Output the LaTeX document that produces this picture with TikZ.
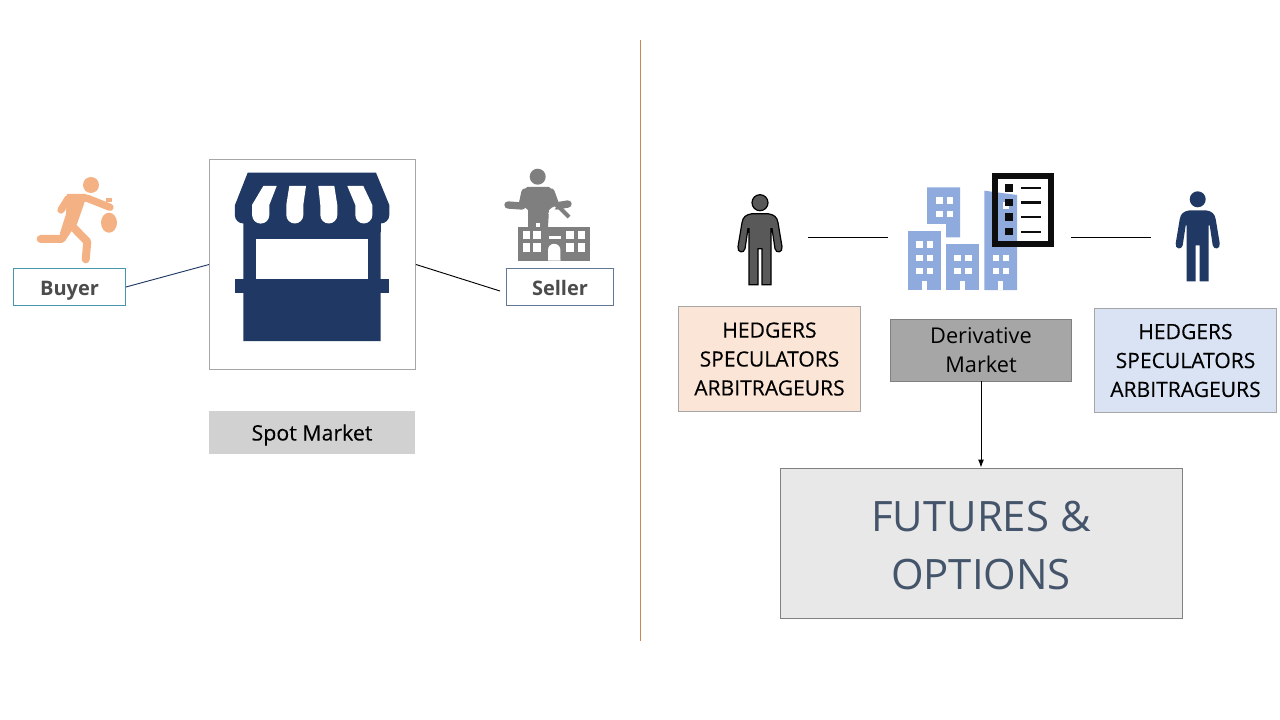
\documentclass[tikz,border=0pt]{standalone}
\usepackage{fontspec}
\setmainfont{Open Sans}
\usetikzlibrary{arrows.meta}
\def\px{0.75pt}
\definecolor{stallblue}{HTML}{1F3864}
\definecolor{runnerorange}{HTML}{F4B183}
\definecolor{sellergray}{HTML}{7F7F7F}
\definecolor{cityblue}{HTML}{8FAADC}
\definecolor{slate}{HTML}{44546A}
\definecolor{rulebrown}{HTML}{C9875C}
\definecolor{peach}{HTML}{FBE5D6}
\definecolor{paleblue}{HTML}{DAE3F3}
\tikzset{
    labelbox/.style={draw=#1, fill=white, line width=0.7pt, inner sep=0pt, align=center, text=black!70, text height=12pt, text depth=0pt, font=\bfseries\fontsize{15}{18}\selectfont},
    groupbox/.style={draw=black!35, fill=#1, line width=0.7pt, inner sep=0pt, align=center, text=black, font=\addfontfeature{FakeBold=0.25}\fontsize{15.8}{21.7}\selectfont},
    person/.pic={
        \fill[pic actions] (0,0) circle (8);
        \path[pic actions] (-8,11) -- (8,11) .. controls (14,12) and (17,14) .. (18,20) -- (22,44)
            .. controls (23,50) and (16,51) .. (15,46) -- (12,26) -- (11,26) -- (11,82) -- (2,82) -- (2,46) -- (-2,46) -- (-2,82) -- (-11,82) -- (-11,26) -- (-12,26) -- (-15,46)
            .. controls (-16,51) and (-23,50) .. (-22,44) -- (-18,20) .. controls (-17,14) and (-14,12) .. (-8,11) -- cycle;
    }
}
\begin{document}
\begin{tikzpicture}[x=0.75pt,y=-0.75pt]
    \useasboundingbox (0,0) rectangle (1280,720);

    \coordinate (ruletop) at (640.5,40);
    \coordinate (rulebottom) at (640.5,641);
    \draw[rulebrown, line width=0.8pt] (ruletop) -- (rulebottom);

    % left side
    \node[draw=black!35, fill=white, line width=0.7pt, minimum width=206*\px, minimum height=210*\px] (stall) at (312.5,264.5) {};
    \node[labelbox={cityblue!50!teal}, minimum width=112*\px, minimum height=37*\px] (buyer) at (69.5,287) {Buyer};
    \node[labelbox={slate!60!cityblue}, minimum width=107*\px, minimum height=37*\px] (seller) at (560,287) {Seller};
    \node[fill=black!18, inner sep=0pt, minimum width=206*\px, minimum height=43*\px, text height=12pt, text depth=0pt, font=\addfontfeature{FakeBold=0.25}\fontsize{16}{18}\selectfont] (spot) at (312,432.5) {Spot Market};

    \coordinate (sellerend) at (500,291);
    \draw[stallblue, line width=0.7pt] (buyer.east) -- (stall.west);
    \draw[line width=0.7pt] (stall.east) -- (sellerend);

    % stall
    \fill[stallblue] (247.7,172.7) -- (376,172.7) -- (389.3,205) -- (389.3,215) arc (0:90:8.5) -- (380.7,239) -- (380.7,341) -- (243.3,341) -- (243.3,223.5) arc (90:180:8.5) -- (235,205) -- cycle;
    \fill[stallblue] (235,278.7) rectangle (389.3,292.7);
    \fill[white] (256,239.3) rectangle (367.7,278.7);
    \fill[white] (263.3,186) -- (276.7,186) -- (269.3,205) -- (269.3,215) arc (0:180:8.6) -- (252,205) -- cycle;
    \fill[white] (289.3,186) -- (306,186) -- (303.3,205) -- (303.3,215) arc (0:180:8.5) -- (286.3,205) -- cycle;
    \fill[white] (318.3,186) -- (334.3,186) -- (337.3,205) -- (337.3,215) arc (0:180:8.5) -- (320.3,205) -- cycle;
    \fill[white] (347.3,186) -- (363.3,186) -- (372.3,205) -- (372.3,215) arc (0:180:8.5) -- (355.3,205) -- cycle;

    % runner
    \fill[runnerorange] (91,185) circle (8);
    \fill[runnerorange] (67,194) -- (86,194) -- (84,204) -- (77,224) -- (68,236) -- (60,233) -- (66,214) -- cycle;
    \draw[runnerorange, line width=5.5pt, line cap=round, line join=round] (61,210) -- (68.3,198.3) -- (87.3,198.3) -- (110,207.3);
    \draw[runnerorange, line width=6pt, line cap=round, line join=round] (66,232) -- (61.7,239) -- (40.7,239);
    \draw[runnerorange, line width=6pt, line cap=round, line join=round] (73,227) -- (87.3,241.7) -- (85.7,259.3);
    \fill[runnerorange] (109,222.7) ellipse (8 and 10);
    \fill[runnerorange] (106,198) rectangle (112,202);

    % seller
    \fill[sellergray] (537.7,176.7) circle (8);
    \fill[sellergray] (527,187) -- (549,187) -- (553,191) -- (556,204) -- (549,210) -- (548,227) -- (528,227) -- (528,210) -- (522,205) -- (523,191) -- cycle;
    \draw[sellergray, line width=5.5pt, line cap=round, line join=round] (525,192) -- (522,206) -- (508,205);
    \draw[sellergray, line width=5.5pt, line cap=round, line join=round] (551,192) -- (556,206) -- (568,204);
    \fill[sellergray] (518.3,226.7) rectangle (590,260.7);
    \draw[white, line width=1.6pt] (549,214) -- (555,207);
    \draw[sellergray, line width=3pt] (557,205) -- (569,217);
    \fill[white] (554,223.5) circle (2.7);
    \fill[white] (536,223) rectangle (540,227);
    \foreach \wx in {522.5,533,566,577.5}
        \foreach \wy in {231.5,243.5}
            \fill[white] (\wx,\wy) rectangle +(7.5,8);
    \fill[white] (548.5,236.5) rectangle (560.5,239.5);
    \fill[white] (548,260.7) -- (548,250) arc (180:360:6.2) -- (560.5,260.7) -- cycle;

    % derivative side
    \pic[fill=black!65, draw=black, line width=0.9pt] at (760,202.7) {person};
    \pic[fill=stallblue] at (1197.7,199.3) {person};

    % city
    \fill[cityblue] (927,187.3) -- (960,187.3) -- (960,237.3) -- (946,237.3) -- (946,224) -- (927,224) -- cycle;
    \fill[cityblue] (908,230.7) rectangle (940.7,290);
    \fill[cityblue] (946,244) rectangle (979,290);
    \fill[cityblue] (984.3,190.7) -- (1017,195) -- (1017,290) -- (984.3,290) -- cycle;
    \foreach \bx in {921.7,960,998.3}
        \fill[white] (\bx,281) rectangle (\bx+5,290);
    \foreach \wx in {936,946.5}
        \foreach \wy in {197.5,211}
            \fill[white] (\wx,\wy) rectangle +(6.5,6.5);
    \foreach \wx in {916,926.5}
        \foreach \wy in {241,254.5,267.5}
            \fill[white] (\wx,\wy) rectangle +(6.5,6.5);
    \foreach \wx in {954,965,992.5,1002.5}
        \foreach \wy in {254.5,267.5}
            \fill[white] (\wx,\wy) rectangle +(6.5,6.5);
    \fill[white] (1002.5,202) rectangle +(6.5,7);

    % list
    \draw[black!95, line width=4.3pt] (994.8,176.1) rectangle (1051.2,243.9);
    \foreach \ly in {187.8,202.5,217,231.7} {
        \fill[black!95] (1005,\ly-3.8) rectangle (1013.3,\ly+3.8);
        \draw[black!95, line width=1.6pt] (1021,\ly) -- (1041,\ly);
    }

    \coordinate (leftlinea) at (808,237.5);
    \coordinate (leftlineb) at (888,237.5);
    \coordinate (rightlinea) at (1071,237.5);
    \coordinate (rightlineb) at (1151,237.5);
    \draw[line width=0.7pt] (leftlinea) -- (leftlineb);
    \draw[line width=0.7pt] (rightlinea) -- (rightlineb);

    \node[groupbox=peach, minimum width=182*\px, minimum height=105*\px] (hedgersleft) at (769.5,359) {HEDGERS\\SPECULATORS\\ARBITRAGEURS};
    \node[groupbox=paleblue, minimum width=182*\px, minimum height=104*\px] (hedgersright) at (1185.5,360.5) {HEDGERS\\SPECULATORS\\ARBITRAGEURS};
    \node[draw=black!50, fill=black!35, line width=0.7pt, inner sep=0pt, align=center, minimum width=181*\px, minimum height=62*\px, font=\fontsize{16.3}{21.7}\selectfont] (derivative) at (981,350) {Derivative\\Market};
    \node[draw=black!50, fill=black!9, line width=0.7pt, inner sep=0pt, align=center, text=slate, minimum width=402*\px, minimum height=150*\px, text height=70.5pt, font=\fontsize{31.4}{43.5}\selectfont] (futures) at (981,543) {FUTURES \&\\OPTIONS};

    \draw[-{Latex[length=6pt,width=4.5pt]}, line width=0.7pt] (derivative) -- (futures);
\end{tikzpicture}
\end{document}
